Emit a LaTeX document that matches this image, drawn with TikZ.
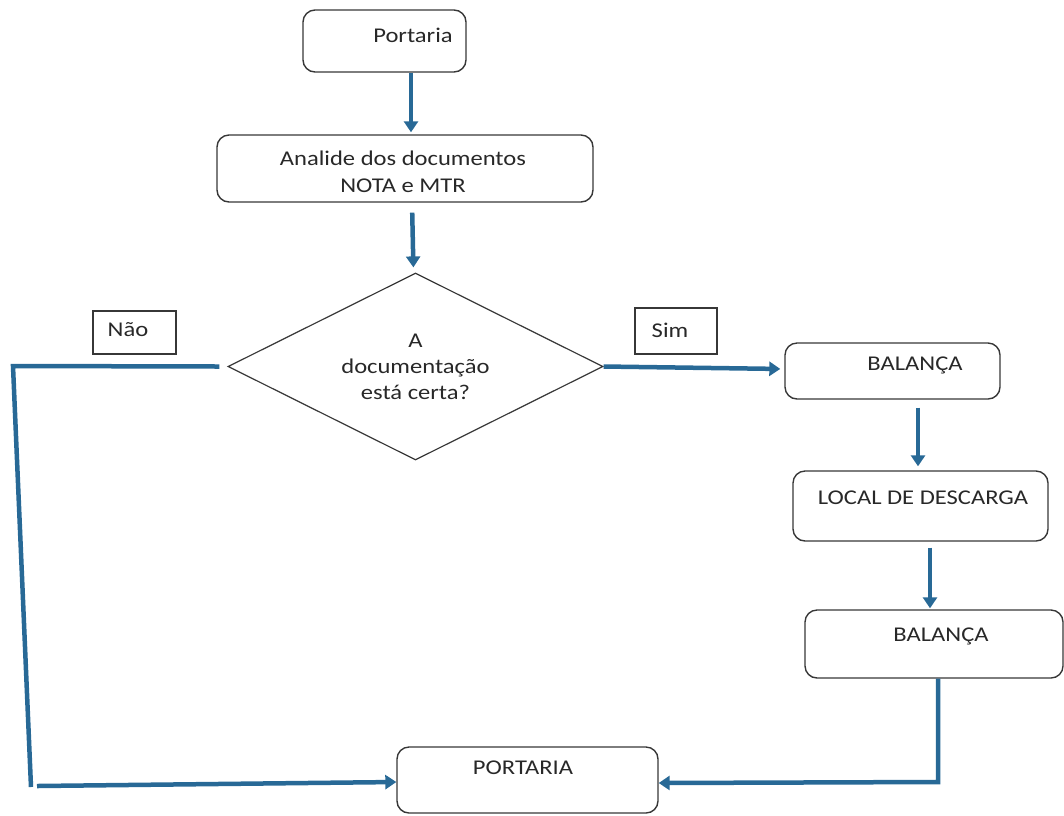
\documentclass[tikz,border=0pt]{standalone}
\usepackage{fontspec}
\setmainfont{Carlito}[FakeStretch=1.17]
\usetikzlibrary{arrows.meta,shapes.geometric}
\definecolor{flow}{RGB}{40,105,150}
\definecolor{edgec}{RGB}{55,55,55}
\definecolor{txtc}{RGB}{40,40,40}
\begin{document}
\begin{tikzpicture}[x=1pt,y=-1pt,
  rbox/.style={draw=edgec,line width=1.4pt,rounded corners=12pt,inner sep=0pt},
  sbox/.style={draw=edgec,line width=1.4pt,inner sep=0pt},
  dbox/.style={draw=edgec,line width=1.2pt,diamond,aspect=2,inner sep=0pt,
    minimum width=375pt,minimum height=187pt,align=center,text=txtc,
    font=\fontsize{21}{26}\selectfont},
  lbl/.style={text=txtc,inner sep=0pt,font=\fontsize{21}{27}\selectfont,align=center},
  flowline/.style={draw=flow,line width=4.5pt},
  flowarrow/.style={flowline,-{Triangle[width=14pt,length=11pt]}}
]
\useasboundingbox (0,0) rectangle (1064,815);

% boxes
\node[rbox,minimum width=163pt,minimum height=62pt] (portaria) at (384.5,41) {};
\node[lbl] (tportaria) at (413,35) {Portaria};

\node[rbox,minimum width=376pt,minimum height=67pt] (analide) at (405,168.5) {};
\node[lbl] (tanalide) at (403,172) {Analide dos documentos\\NOTA e MTR};

\node[dbox] (dec) at (415.5,366.5) {A\\documentação\\está certa?};

\node[sbox,minimum width=83pt,minimum height=43pt] (nao) at (134.5,332.5) {};
\node[lbl] (tnao) at (128,330) {Não};

\node[sbox,minimum width=82pt,minimum height=46pt] (sim) at (676,331) {};
\node[lbl] (tsim) at (670,330) {Sim};

\node[rbox,minimum width=215pt,minimum height=56pt] (bal1) at (892.5,371) {};
\node[lbl] (tbal1) at (915,365) {BALANÇA};

\node[rbox,minimum width=255pt,minimum height=70pt] (local) at (920.5,506) {};
\node[lbl] (tlocal) at (923,498) {LOCAL DE DESCARGA};

\node[rbox,minimum width=258pt,minimum height=68pt] (bal2) at (934,644) {};
\node[lbl] (tbal2) at (941,636) {BALANÇA};

\node[rbox,minimum width=261pt,minimum height=66pt] (port2) at (527.5,780) {};
\node[lbl] (tport2) at (523,768) {PORTARIA};

% helper coordinates
\coordinate (nl1) at (13,366);
\coordinate (nl2) at (31,787);
\coordinate (nl3) at (37,786);
\coordinate (br) at (938,782);

% connectors
\draw[flowarrow,shorten >=2pt] ([xshift=26.5pt]portaria.south) -- ([xshift=6pt]analide.north);
\draw[flowarrow,shorten <=10pt,shorten >=5pt] ([xshift=7pt]analide.south) -- ([xshift=-2pt]dec.north);
\draw[flowarrow,shorten >=4pt] (dec.east) -- ([yshift=2pt]bal1.west);
\draw[flowarrow,shorten <=8pt,shorten >=4pt] ([xshift=25.5pt]bal1.south) -- ([xshift=-2.5pt]local.north);
\draw[flowarrow,shorten <=6pt,shorten >=1pt] ([xshift=9.5pt]local.south) -- ([xshift=-4pt]bal2.north);
\draw[flowarrow] ([xshift=4pt]bal2.south) -- (br) -- ([yshift=-3pt]port2.east);
\draw[flowline] ([xshift=-8pt]dec.west) -- (nl1) -- (nl2);
\draw[flowarrow] (nl3) -- ([yshift=-2pt]port2.west);
\end{tikzpicture}
\end{document}
